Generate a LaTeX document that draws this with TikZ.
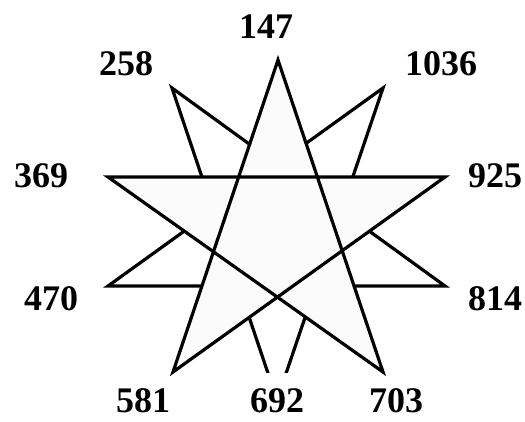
\documentclass[tikz,border=0pt]{standalone}
\usepackage{fontspec}
\setmainfont{Liberation Serif}
\definecolor{starfill}{RGB}{252,251,251}
\begin{document}
\begin{tikzpicture}[x=1pt,y=-1pt,
  starline/.style={line width=3.2pt, line join=miter, miter limit=20},
  lbl/.style={font=\bfseries\fontsize{36}{36}\selectfont, anchor=base, inner sep=0pt, text depth=0pt}]
\useasboundingbox (0,0) rectangle (525,421);
\fill[white] (0,0) rectangle (525,421);
% second (downward) star, behind
\coordinate (p1036) at (383,88);
\coordinate (p258) at (172,88);
\coordinate (p470) at (108,286);
\coordinate (p692) at (277,400);
\coordinate (p814) at (445,286);
% first (upward) star, in front
\coordinate (p147) at (278,60);
\coordinate (p369) at (108,177);
\coordinate (p925) at (445,177);
\coordinate (p581) at (173,372);
\coordinate (p703) at (383,372);
\begin{scope}
  \clip (0,0) rectangle (525,372);
  \draw[starline, fill=white] (p1036) -- (p470) -- (p814) -- (p258) -- (p692) -- cycle;
\end{scope}
\draw[starline, fill=starfill] (p147) -- (p581) -- (p925) -- (p369) -- (p703) -- cycle;
% labels
\node[lbl] (l147) at (266,38) {147};
\node[lbl] (l258) at (126,75) {258};
\node[lbl] (l1036) at (441,75) {1036};
\node[lbl] (l369) at (41,187) {369};
\node[lbl] (l925) at (495,187) {925};
\node[lbl] (l470) at (51,310) {470};
\node[lbl] (l814) at (495,310) {814};
\node[lbl] (l581) at (143,412) {581};
\node[lbl] (l692) at (277,412) {692};
\node[lbl] (l703) at (396,412) {703};
\end{tikzpicture}
\end{document}
